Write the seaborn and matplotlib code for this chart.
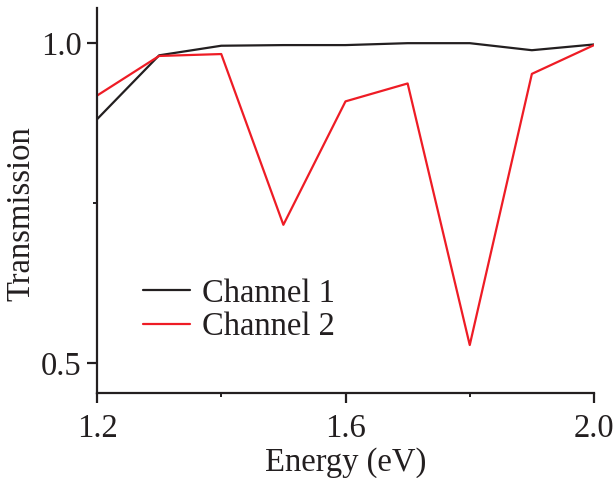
import matplotlib
matplotlib.use("Agg")
import matplotlib.pyplot as plt
import seaborn as sns
import pandas as pd
from matplotlib.ticker import FixedLocator

energy = [1.2, 1.3, 1.4, 1.5, 1.6, 1.7, 1.8, 1.9, 2.0]
channel1 = [0.881, 0.981, 0.996, 0.997, 0.997, 1.000, 1.000, 0.989, 0.998]
channel2 = [0.918, 0.980, 0.983, 0.716, 0.909, 0.937, 0.528, 0.952, 0.997]
series_names = ["Channel 1", "Channel 2"]
x_ticks = [1.2, 1.6, 2.0]
y_ticks = [0.5, 1.0]

df = pd.DataFrame({
    "Energy": energy * 2,
    "Transmission": channel1 + channel2,
    "Series": [series_names[0]] * len(energy) + [series_names[1]] * len(energy),
})

sns.set_style("ticks")
plt.rcParams['font.family'] = ['Liberation Serif', 'DejaVu Serif']
fs = 23.5

fig = plt.figure(figsize=(6.14, 4.78), dpi=100)
ax = fig.add_axes([97/614, 1 - 393/478, (594-97)/614, (393-8)/478])

sns.lineplot(data=df, x="Energy", y="Transmission", hue="Series",
             palette={"Channel 1": "#231f20", "Channel 2": "#ee1c25"},
             linewidth=1.6, ax=ax)

ax.set_xlim(1.2, 2.0)
ax.set_ylim(0.453, 1.055)
ax.xaxis.set_major_locator(FixedLocator(x_ticks))
ax.xaxis.set_minor_locator(FixedLocator([1.4, 1.8]))
ax.yaxis.set_major_locator(FixedLocator(y_ticks))
ax.yaxis.set_minor_locator(FixedLocator([0.75]))
ax.set_xticklabels([f"{v:.1f}" for v in x_ticks])
ax.set_yticklabels([f"{v:.1f}" for v in y_ticks])
ax.tick_params(axis='both', which='major', direction='out', length=7, width=1.6,
               labelsize=fs, color='#231f20', labelcolor='#231f20')
ax.tick_params(axis='x', which='major', pad=8)
ax.tick_params(axis='y', which='major', pad=4)
ax.tick_params(axis='both', which='minor', direction='out', length=3, width=1.4,
               color='#231f20')
for s in ['top', 'right']:
    ax.spines[s].set_visible(False)
for s in ['left', 'bottom']:
    ax.spines[s].set_linewidth(1.6)
    ax.spines[s].set_color('#231f20')

ax.set_xlabel("Energy (eV)", fontsize=fs, color='#231f20', labelpad=2)
ax.set_ylabel("Transmission", fontsize=fs, color='#231f20', labelpad=6)
ax.yaxis.set_label_coords((36 - 97) / 497, 1 - (214 - 8) / 385)

leg = ax.legend(loc='upper left', bbox_to_anchor=((143-97)/497, 1 - (278-8)/385),
                frameon=False, fontsize=fs, handlelength=1.45, handletextpad=0.35,
                labelspacing=0.1, borderpad=0, borderaxespad=0)
for t in leg.get_texts():
    t.set_color('#231f20')

fig.savefig("out.png", dpi=100)
